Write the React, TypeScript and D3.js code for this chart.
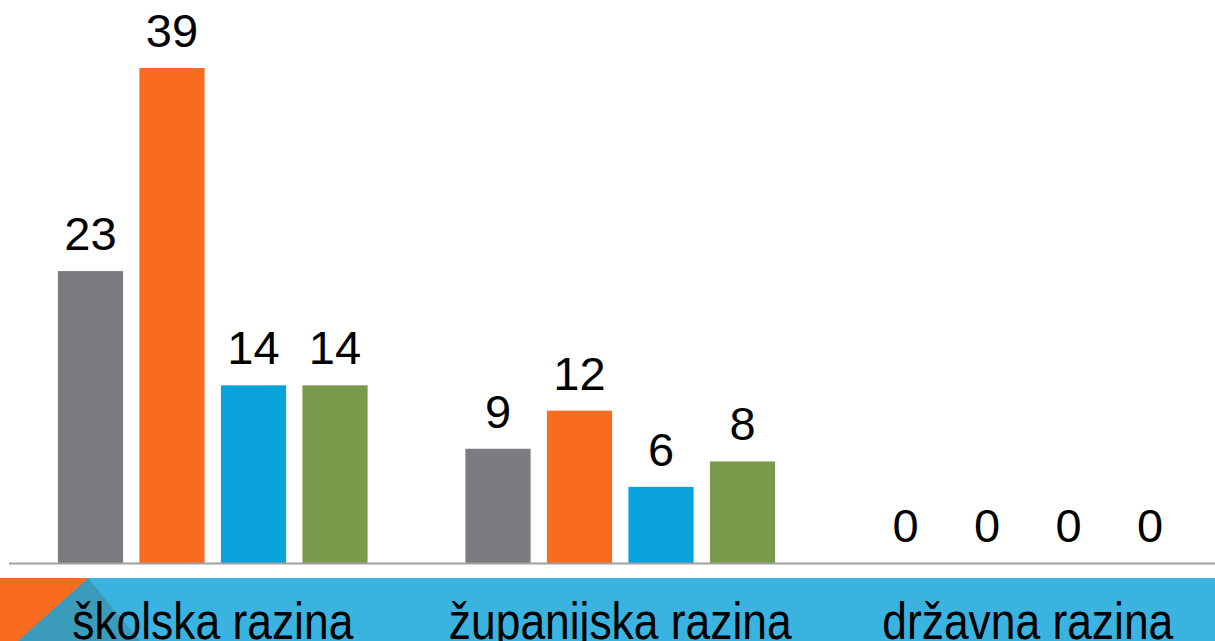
import React, { useEffect, useRef } from "react";
import * as d3 from "d3";

const categories = ["školska razina", "županijska razina", "državna razina"];
const seriesNames = ["s1", "s2", "s3", "s4"];
const series1 = [23, 9, 0];
const series2 = [39, 12, 0];
const series3 = [14, 6, 0];
const series4 = [14, 8, 0];
const seriesColors = ["#7b7c80", "#f96b1e", "#0aa2db", "#7a9a4b"];

const W = 1215;
const H = 641;

const App = () => {
  const svgRef = useRef<SVGSVGElement>(null);

  useEffect(() => {
    const svg = d3.select(svgRef.current);
    svg.selectAll("*").remove();

    const baseY = 563;
    const values = [series1, series2, series3, series4];

    const x0 = d3.scaleBand().domain(categories).range([9, 1231.5]).padding(0);
    const x1 = d3
      .scaleBand()
      .domain(seriesNames)
      .range([0, x0.bandwidth()])
      .paddingInner(0.2)
      .paddingOuter(0.6);
    const y = d3
      .scaleLinear()
      .domain([0, d3.max(values.flat())])
      .range([baseY, 68]);

    // bottom band decoration
    const band = svg.append("g");
    band.append("rect").attr("x", 0).attr("y", 578).attr("width", W).attr("height", H - 578).attr("fill", "#3ab3e0");
    band.append("polygon").attr("points", "88,578 18,641 140,641").attr("fill", "#3a9bba");
    band.append("polygon").attr("points", "0,578 88,578 18,641 0,641").attr("fill", "#f96b1e");

    const groups = svg
      .selectAll(".grp")
      .data(categories)
      .enter()
      .append("g")
      .attr("transform", (d) => `translate(${x0(d)},0)`);

    groups
      .selectAll("rect")
      .data((d, i) => seriesNames.map((s, j) => ({ s, v: values[j][i], c: seriesColors[j] })))
      .enter()
      .append("rect")
      .attr("x", (d) => x1(d.s))
      .attr("y", (d) => y(d.v))
      .attr("width", x1.bandwidth())
      .attr("height", (d) => baseY - y(d.v))
      .attr("fill", (d) => d.c);

    groups
      .selectAll("text")
      .data((d, i) => seriesNames.map((s, j) => ({ s, v: values[j][i] })))
      .enter()
      .append("text")
      .attr("x", (d) => x1(d.s) + x1.bandwidth() / 2)
      .attr("y", (d) => y(d.v) - 21)
      .attr("text-anchor", "middle")
      .attr("font-family", "Liberation Sans, Arial, sans-serif")
      .attr("font-size", 47)
      .attr("fill", "#000")
      .text((d) => d.v);

    // axis line
    svg
      .append("line")
      .attr("x1", 9)
      .attr("x2", W)
      .attr("y1", baseY + 0.5)
      .attr("y2", baseY + 0.5)
      .attr("stroke", "#a0a0a0")
      .attr("stroke-width", 2);

    // category labels (cut by the bottom edge, as in the slide)
    svg
      .selectAll(".cat")
      .data(categories)
      .enter()
      .append("text")
      .attr("transform", (d) => `translate(${x0(d) + x0.bandwidth() / 2},639) scale(0.87,1)`)
      .attr("text-anchor", "middle")
      .attr("font-family", "Liberation Sans, Arial, sans-serif")
      .attr("font-size", 51)
      .attr("fill", "#000")
      .text((d) => d);
  }, []);

  return (
    <svg
      ref={svgRef}
      width={W}
      height={H}
      style={{ position: "absolute", left: 0, top: 0, background: "#fff" }}
    ></svg>
  );
};

export default App;
